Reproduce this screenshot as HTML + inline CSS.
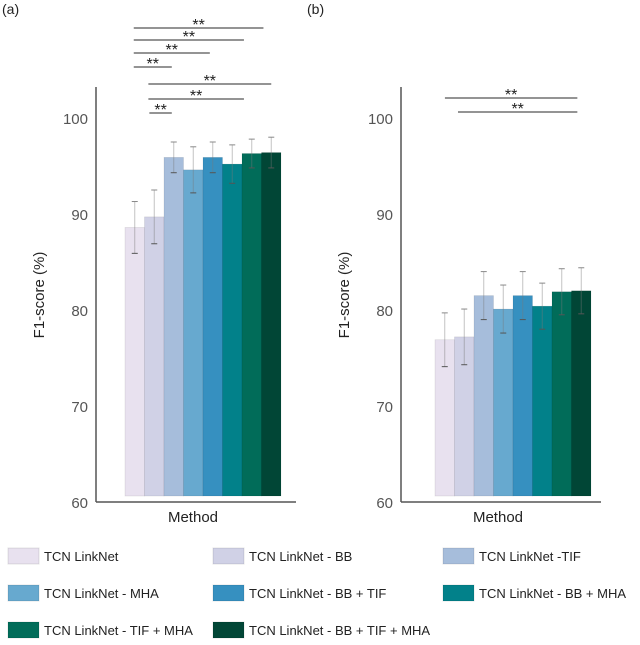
<!DOCTYPE html>
<html><head><meta charset="utf-8"><style>
body{margin:0;background:#fff;font-family:"Liberation Sans",sans-serif;}
svg text{font-family:"Liberation Sans",sans-serif;}
</style></head><body>
<svg id="c" width="640" height="640"></svg>
<script>
const categories=["TCN LinkNet","TCN LinkNet - BB","TCN LinkNet -TIF","TCN LinkNet - MHA","TCN LinkNet - BB + TIF","TCN LinkNet - BB + MHA","TCN LinkNet - TIF + MHA","TCN LinkNet - BB + TIF + MHA"];
const colors=["#e8e1ef","#d0d1e6","#a6bddb","#67a9cf","#3690c0","#02818a","#016c59","#014636"];
const valuesA=[88.6,89.7,95.9,94.6,95.9,95.2,96.3,96.4];
const errA=[2.7,2.8,1.6,2.4,1.6,2.0,1.5,1.6];
const valuesB=[76.9,77.2,81.5,80.1,81.5,80.4,81.9,82.0];
const errB=[2.8,2.9,2.5,2.5,2.5,2.4,2.4,2.4];
const ticks=[60,70,80,90,100];
const sigA=[[0,6.6,28],[0,5.6,40],[0,3.85,53],[0,1.9,67],[0.75,7,84],[0.75,5.6,99],[0.8,1.9,113]];
const sigB=[[0.06,6.8,98],[0.73,6.8,112]];
const NS="http://www.w3.org/2000/svg";
const svg=document.getElementById('c');
function mk(t,a,p){const e=document.createElementNS(NS,t);for(const k in a)e.setAttribute(k,a[k]);(p||svg).appendChild(e);return e;}
const y=v=>502-(v-60)*9.6;
function panel(ax,bx,vals,errs,sig,label,nm){
 const g=mk('g',{});
 
 
 let t=mk('text',{x:ax-96+2,y:14,'font-size':14,fill:'#222'},g);t.textContent=label;
 mk('line',{x1:ax,y1:87,x2:ax,y2:502,stroke:'#555','stroke-width':1.5},g);
 mk('line',{x1:ax,y1:502,x2:ax+200,y2:502,stroke:'#555','stroke-width':1.5},g);
 ticks.forEach(v=>{const tt=mk('text',{x:ax-8,y:y(v)+6,'font-size':15,'text-anchor':'end',fill:'#555'},g);tt.textContent=v;});
 const yl=mk('text',{transform:`translate(${ax-52},295) rotate(-90)`,'font-size':15,'text-anchor':'middle',fill:'#222'},g);yl.textContent='F1-score  (%)';
 
 const xl=mk('text',{x:ax+97,y:522,'font-size':15,'text-anchor':'middle',fill:'#222'},g);xl.textContent='Method';
 
 const w=19.5;
 vals.forEach((v,i)=>{const x=bx+i*w;
  const r=mk('rect',{x:x,y:y(v),width:w,height:y(60)-6-y(v),fill:colors[i],stroke:'rgba(0,0,0,0.12)','stroke-width':0.6},g);
  
  const cx=x+w/2;
  mk('line',{x1:cx,y1:y(v+errs[i]),x2:cx,y2:y(v-errs[i]),stroke:'rgba(120,120,120,0.45)','stroke-width':1},g);
  mk('line',{x1:cx-3,y1:y(v+errs[i]),x2:cx+3,y2:y(v+errs[i]),stroke:'#888','stroke-width':1},g);
  mk('line',{x1:cx-3,y1:y(v-errs[i]),x2:cx+3,y2:y(v-errs[i]),stroke:'#555','stroke-width':1},g);
 });
 sig.forEach(s=>{const x1=bx+s[0]*w+w/2-1,x2=bx+s[1]*w+w/2;
  const l=mk('line',{x1:x1,y1:s[2],x2:x2,y2:s[2],stroke:'#555','stroke-width':1.3},g);
  
  const st=mk('text',{x:(x1+x2)/2,y:s[2]+2,'font-size':16,'text-anchor':'middle',fill:'#222'},g);st.textContent='**';
 });
}
panel(96,125,valuesA,errA,sigA,'(a)','panel-a');
panel(401,435,valuesB,errB,sigB,'(b)','panel-b');
const lx=[8,213,443],ly=[548,585,622];
categories.forEach((c,i)=>{const x=lx[i%3],yy=ly[Math.floor(i/3)];
 const g=mk('g',{});
 
 
 mk('rect',{x:x,y:yy,width:31,height:16,fill:colors[i],stroke:'rgba(0,0,0,0.1)'},g);
 const t=mk('text',{x:x+36,y:yy+13,'font-size':13,fill:'#222'},g);t.textContent=c;
});
</script>
</body></html>
